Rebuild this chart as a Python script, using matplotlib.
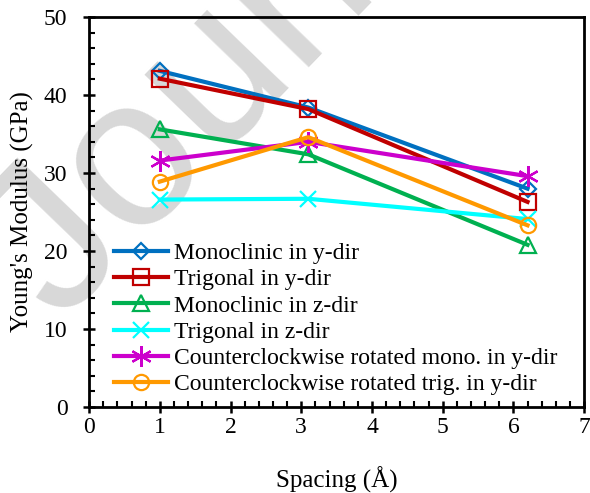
import matplotlib
matplotlib.use("Agg")
import matplotlib.pyplot as plt
from matplotlib.ticker import MultipleLocator

spacing = [1.0, 3.1, 6.2]
mono_y = [43.1, 38.4, 28.0]
trig_y = [42.1, 38.2, 26.3]
mono_z = [35.6, 32.4, 20.8]
trig_z = [26.6, 26.7, 24.1]
ccw_mono_y = [31.6, 34.0, 29.6]
ccw_trig_y = [28.9, 34.6, 23.3]

labels = ["Monoclinic in y-dir", "Trigonal in y-dir", "Monoclinic in z-dir",
          "Trigonal in z-dir", "Counterclockwise rotated mono. in y-dir",
          "Counterclockwise rotated trig. in y-dir"]
series = [mono_y, trig_y, mono_z, trig_z, ccw_mono_y, ccw_trig_y]
colors = ["#0070c0", "#c00000", "#00b050", "#00ffff", "#cc00cc", "#ff9900"]
markers = ["D", "s", "^", "x", (6, 2, 0), "o"]
msizes = [8, 11, 11, 11, 15, 11]

plt.rcParams['font.family'] = ['Liberation Serif', 'DejaVu Serif']

fig = plt.figure(figsize=(5.90, 4.93), dpi=100)
ax = fig.add_axes([0.151, 0.1744, 0.839, 0.791])
ax.set_facecolor("none")

fig.text(0.10, 0.345, "Journal", rotation=46, fontsize=154,
         color="#d8d8d8", family="Liberation Sans", ha="left", va="baseline",
         rotation_mode="anchor", zorder=-1)

for y, lab, c, m, ms in zip(series, labels, colors, markers, msizes):
    filled = m in ["x", (6, 2, 0)]
    ax.plot(spacing, y, color=c, lw=3, marker=m, ms=ms,
            mfc=c if filled else "none", mec=c, mew=1.6, label=lab)

ax.set_xlim(0, 7)
ax.set_ylim(0, 50)
ax.xaxis.set_major_locator(MultipleLocator(1))
ax.xaxis.set_minor_locator(MultipleLocator(0.2))
ax.yaxis.set_major_locator(MultipleLocator(10))
ax.yaxis.set_minor_locator(MultipleLocator(2))
ax.tick_params(which="major", direction="inout", length=9, width=1.8, labelsize=17)
ax.tick_params(which="minor", direction="in", length=4.5, width=1.5)
ax.tick_params(axis="x", which="major", pad=3)
ax.tick_params(axis="y", which="major", pad=11)
for s in ax.spines.values():
    s.set_linewidth(2)

ax.set_xlabel("Spacing (Å)", fontsize=18, labelpad=20)
ax.set_ylabel("Young's Modulus (GPa)", fontsize=18, labelpad=7)

leg = ax.legend(loc="lower left", bbox_to_anchor=(0.05, 0.03), frameon=False,
                fontsize=17, handlelength=2.3, handletextpad=0.25, labelspacing=0.2,
                borderaxespad=0, borderpad=0)
fig.savefig("out.png", dpi=100)
